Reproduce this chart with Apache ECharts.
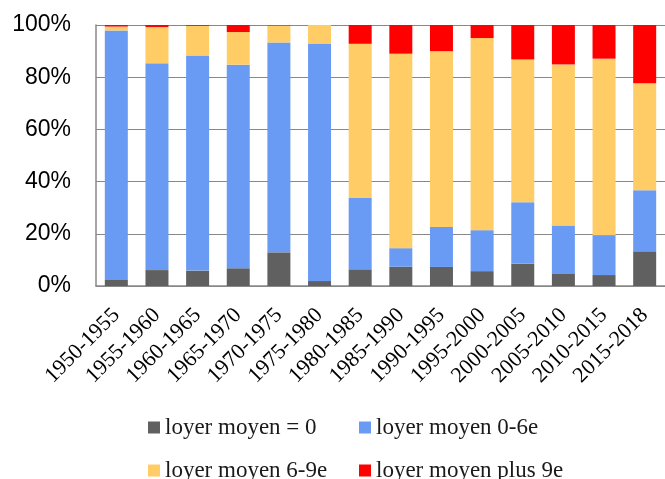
<!DOCTYPE html>
<html>
<head>
<meta charset="utf-8">
<script src="https://cdn.jsdelivr.net/npm/echarts@6/dist/echarts.min.js"></script>
<style>
  html, body { margin: 0; padding: 0; background: #fff; }
  #chart { width: 665px; height: 479px; }
</style>
</head>
<body>
<div id="chart"></div>
<script>
var periods = ['1950-1955', '1955-1960', '1960-1965', '1965-1970', '1970-1975', '1975-1980', '1980-1985',
  '1985-1990', '1990-1995', '1995-2000', '2000-2005', '2005-2010', '2010-2015', '2015-2018']
var seriesNames = ['loyer moyen = 0', 'loyer moyen 0-6e', 'loyer moyen 6-9e', 'loyer moyen plus 9e']
// parts in %, each period sums to 100
var loyerZero = [2.3, 6.1, 5.9, 6.8, 12.9, 1.9, 6.4, 7.4, 7.3, 5.7, 8.5, 4.6, 4.2, 13.3]
var loyer0a6 = [95.6, 79.2, 82.4, 78.0, 80.4, 91.0, 27.3, 7.1, 15.3, 15.7, 23.6, 18.6, 15.3, 23.4]
var loyer6a9 = [1.5, 13.9, 11.4, 12.5, 6.5, 7.1, 59.1, 74.5, 67.4, 73.6, 54.7, 61.7, 67.6, 41.0]
var loyerPlus9 = [0.6, 0.8, 0.3, 2.7, 0.2, 0, 7.2, 11.0, 10.0, 5.0, 13.2, 15.1, 12.9, 22.3]
var colors = ['#606060', '#6a9bf4', '#ffcc66', '#ff0000']

var chart = echarts.init(document.getElementById('chart'))

function bar(i, data) {
  return {
    name: seriesNames[i],
    type: 'bar',
    stack: 'total',
    barWidth: 23,
    data: data,
    itemStyle: { color: colors[i] }
  }
}

// legend laid out 2x2 like the excel one, one legend per item
var legendPos = [[148, 416], [359, 416], [148, 459], [359, 459]]
var legends = seriesNames.map(function(name, i) {
  return {
    left: legendPos[i][0],
    top: legendPos[i][1],
    padding: 0,
    itemWidth: 12,
    itemHeight: 12,
    icon: 'rect',
    data: [name],
    textStyle: {
      fontFamily: '"Liberation Serif", serif',
      fontSize: 23,
      color: '#1a1a1a'
    }
  }
})

chart.setOption({
  animation: false,
  grid: { left: 96, top: 25, right: -14, bottom: 193 },
  legend: legends,
  xAxis: {
    type: 'category',
    data: periods,
    axisLine: { lineStyle: { color: '#888', width: 1.5 } },
    axisTick: { show: false },
    axisLabel: {
      interval: 0,
      rotate: 45,
      margin: 26,
      color: '#000',
      fontFamily: '"Liberation Serif", serif',
      fontSize: 22
    }
  },
  yAxis: {
    type: 'value',
    min: 0,
    max: 100,
    interval: 20,
    axisLine: { show: true, lineStyle: { color: '#888', width: 1.5 } },
    splitLine: { lineStyle: { color: '#888', width: 1.2 } },
    axisLabel: {
      formatter: '{value}%',
      margin: 25,
      color: '#000',
      fontFamily: '"Liberation Sans", sans-serif',
      fontSize: 23
    }
  },
  series: [
    bar(0, loyerZero),
    bar(1, loyer0a6),
    bar(2, loyer6a9),
    bar(3, loyerPlus9)
  ]
})
</script>
</body>
</html>
